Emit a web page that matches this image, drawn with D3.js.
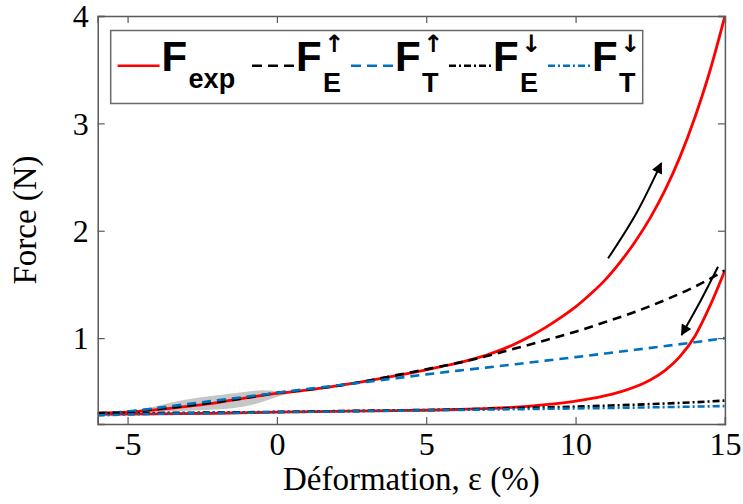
<!DOCTYPE html>
<html><head><meta charset="utf-8">
<script src="https://cdn.jsdelivr.net/npm/d3@7"></script>
<style>html,body{margin:0;padding:0;background:#fff;}</style>
</head><body>
<svg id="chart" width="743" height="504"></svg>
<script>
// ---- Data ----
const xTicks = [-5, 0, 5, 10, 15];
const yTicks = [1, 2, 3, 4];
const xLabel = "Déformation, ε (%)";
const yLabel = "Force (N)";

const expLoadX = [-6,-5,-4,-3,-2,-1,0,1,2,3,3.5,4,4.5,5,5.5,6,6.5,7,7.5,8,8.5,9,9.5,10,10.5,11,11.5,12,12.5,13,13.5,14,14.5,15];
const expLoadY = [0.30,0.31,0.333,0.365,0.40,0.445,0.485,0.515,0.555,0.60,0.624,0.65,0.677,0.705,0.735,0.765,0.80,0.84,0.89,0.95,1.02,1.10,1.19,1.29,1.41,1.545,1.71,1.90,2.12,2.38,2.69,3.06,3.49,4.0];

const expUnloadX = [-6,-4,-2,0,2,4,6,7,8,8.5,9,9.5,10,10.5,11,11.5,12,12.5,13,13.5,14,14.5,15];
const expUnloadY = [0.29,0.295,0.30,0.31,0.318,0.325,0.335,0.344,0.357,0.367,0.38,0.395,0.413,0.436,0.465,0.50,0.547,0.61,0.70,0.83,1.02,1.30,1.63];

const feUpX = [-6,-5,-4,-3,-2,-1,0,1,2,3,4,5,6,7,8,9,10,11,12,13,14,15];
const feUpY = [0.30,0.315,0.34,0.37,0.405,0.445,0.49,0.52,0.555,0.60,0.655,0.71,0.765,0.83,0.905,0.98,1.06,1.15,1.245,1.355,1.48,1.63];

const ftUpX = [-6,-5,-4,-3,-2,-1,0,1,2,3,4,5,6,7,8,9,10,11,12,13,14,15];
const ftUpY = [0.29,0.315,0.35,0.385,0.42,0.455,0.49,0.525,0.558,0.592,0.627,0.662,0.695,0.725,0.757,0.79,0.823,0.857,0.891,0.926,0.962,1.0];

const feDownX = [-6,-4,-2,0,2,4,6,8,10,12,14,15];
const feDownY = [0.30,0.303,0.307,0.313,0.32,0.327,0.335,0.348,0.362,0.38,0.403,0.418];

const ftDownX = [-6,-5,-4,-2,0,2,4,6,8,10,12,14,15];
const ftDownY = [0.28,0.288,0.295,0.302,0.31,0.317,0.324,0.331,0.338,0.345,0.353,0.362,0.367];

// grey scatter band (upper and lower envelope)
const bandX     = [-5.2,-4.4,-3.3,-2.2,-1.1,-0.5,0,0.3,0.7];
const bandUpper = [0.305,0.345,0.415,0.46,0.498,0.515,0.508,0.50,0.51];
const bandLower = [0.305,0.312,0.32,0.332,0.362,0.405,0.452,0.478,0.51];

// direction arrows
const arrowUpX = [11.09,12.03,12.87];
const arrowUpY = [1.743,2.16,2.63];
const arrowDownX = [14.77,14.2,13.55];
const arrowDownY = [1.665,1.355,1.03];

// ---- Layout ----
const L = 97.7, R = 724.9, T = 16, B = 424;
const svg = d3.select("#chart");
const x = d3.scaleLinear().domain([-6, 15]).range([L, R]);
const y = d3.scaleLinear().domain([0.2, 4]).range([B, T]);

const zip = (xs, ys) => xs.map((v, i) => [v, ys[i]]);
const line = d3.line().x(d => x(d[0])).y(d => y(d[1])).curve(d3.curveMonotoneX);

const defs = svg.append("defs");
defs.append("clipPath").attr("id", "clip")
  .append("rect").attr("x", L).attr("y", T).attr("width", R - L).attr("height", B - T);

const plot = svg.append("g").attr("clip-path", "url(#clip)");

// band
const area = d3.area().x(d => x(d[0])).y0(d => y(d[2])).y1(d => y(d[1])).curve(d3.curveMonotoneX);
plot.append("path")
  .datum(bandX.map((v, i) => [v, bandUpper[i], bandLower[i]]))
  .attr("d", area).attr("fill", "#c6c6c6").attr("stroke", "none");

const RED = "#ff0000", BLUE = "#0072BD";
const series = [
  {d: zip(expLoadX, expLoadY), c: RED, w: 2.8, dash: null},
  {d: zip(expUnloadX, expUnloadY), c: RED, w: 2.8, dash: null},
  {d: zip(feUpX, feUpY), c: "#000", w: 2.6, dash: "9,6"},
  {d: zip(ftUpX, ftUpY), c: BLUE, w: 2.6, dash: "9,6"},
  {d: zip(feDownX, feDownY), c: "#000", w: 2.6, dash: "7,3,2,3"},
  {d: zip(ftDownX, ftDownY), c: BLUE, w: 2.6, dash: "7,3,2,3"}
];
series.forEach(s => {
  plot.append("path").datum(s.d).attr("d", line)
    .attr("fill", "none").attr("stroke", s.c).attr("stroke-width", s.w)
    .attr("stroke-dasharray", s.dash);
});

// arrowheads
defs.append("marker").attr("id", "ah")
  .attr("viewBox", "0 0 10 10").attr("refX", 9).attr("refY", 5)
  .attr("markerWidth", 13).attr("markerHeight", 11).attr("markerUnits", "userSpaceOnUse")
  .attr("orient", "auto")
  .append("path").attr("d", "M0,0 L10,5 L0,10 Z").attr("fill", "#000");

const arrowLine = d3.line().x(d => x(d[0])).y(d => y(d[1])).curve(d3.curveNatural);
[zip(arrowUpX, arrowUpY), zip(arrowDownX, arrowDownY)].forEach(a => {
  svg.append("path").datum(a).attr("d", arrowLine)
    .attr("fill", "none").attr("stroke", "#000").attr("stroke-width", 2)
    .attr("marker-end", "url(#ah)");
});

// axes
const AX = "#5a5a5a";
const tickFmt = d => String(d);
const gB = svg.append("g").attr("transform", `translate(0,${B})`)
  .call(d3.axisBottom(x).tickValues(xTicks).tickSize(-7).tickPadding(8).tickFormat(tickFmt));
const gT = svg.append("g").attr("transform", `translate(0,${T})`)
  .call(d3.axisTop(x).tickValues(xTicks).tickSize(-7).tickFormat(""));
const gL = svg.append("g").attr("transform", `translate(${L},0)`)
  .call(d3.axisLeft(y).tickValues(yTicks).tickSize(-7).tickPadding(9).tickFormat(tickFmt));
const gR = svg.append("g").attr("transform", `translate(${R},0)`)
  .call(d3.axisRight(y).tickValues(yTicks).tickSize(-7).tickFormat(""));
[gB, gT, gL, gR].forEach(g => {
  g.select(".domain").attr("stroke", AX).attr("stroke-width", 1.5);
  g.selectAll(".tick line").attr("stroke", AX).attr("stroke-width", 1.2);
  g.selectAll("text").attr("fill", "#000")
    .style("font-family", "'Liberation Serif', 'DejaVu Serif', serif").style("font-size", "32px");
});
gB.selectAll(".tick text").attr("dy", "0.71em");
gL.selectAll(".tick text").attr("dy", "0.34em");

svg.append("text").attr("x", (L + R) / 2).attr("y", 490).attr("text-anchor", "middle")
  .style("font-family", "'Liberation Serif', serif").style("font-size", "33px").text(xLabel);
svg.append("text").attr("transform", `translate(36,${(T + B) / 2}) rotate(-90)`)
  .attr("text-anchor", "middle")
  .style("font-family", "'Liberation Serif', serif").style("font-size", "33px").text(yLabel);

// legend
const leg = svg.append("g");
leg.append("rect").attr("x", 110.7).attr("y", 30.5).attr("width", 532).attr("height", 73)
  .attr("fill", "#fff").attr("stroke", "#6a6a6a").attr("stroke-width", 1.5);

const legendItems = [
  {x0: 117.6, c: RED, dash: null, sub: "exp", sup: null},
  {x0: 252, c: "#000", dash: "10,6", sub: "E", sup: "↑"},
  {x0: 351, c: BLUE, dash: "10,6", sub: "T", sup: "↑"},
  {x0: 449, c: "#000", dash: "7,3,2,3", sub: "E", sup: "↓"},
  {x0: 548, c: BLUE, dash: "7,3,2,3", sub: "T", sup: "↓"}
];
const LF = "'Liberation Sans', Arial, sans-serif";
legendItems.forEach(it => {
  leg.append("line").attr("x1", it.x0).attr("x2", it.x0 + 42).attr("y1", 65.8).attr("y2", 65.8)
    .attr("stroke", it.c).attr("stroke-width", 2.6).attr("stroke-dasharray", it.dash);
  leg.append("text").attr("x", it.x0 + 44).attr("y", 71).attr("fill", "#000")
    .style("font-family", LF).style("font-weight", "bold").style("font-size", "42px").text("F");
  const sx = it.x0 + 71;
  leg.append("text").attr("x", sx).attr("y", it.sup ? 92 : 88).attr("fill", "#000")
    .style("font-family", LF).style("font-weight", "bold").style("font-size", "27px").text(it.sub);
  if (it.sup) {
    leg.append("text").attr("x", sx + 11).attr("y", 52).attr("text-anchor", "middle").attr("fill", "#000")
      .style("font-family", "'DejaVu Sans', sans-serif").style("font-weight", "bold").style("font-size", "24px").text(it.sup);
  }
});
</script>
</body></html>
